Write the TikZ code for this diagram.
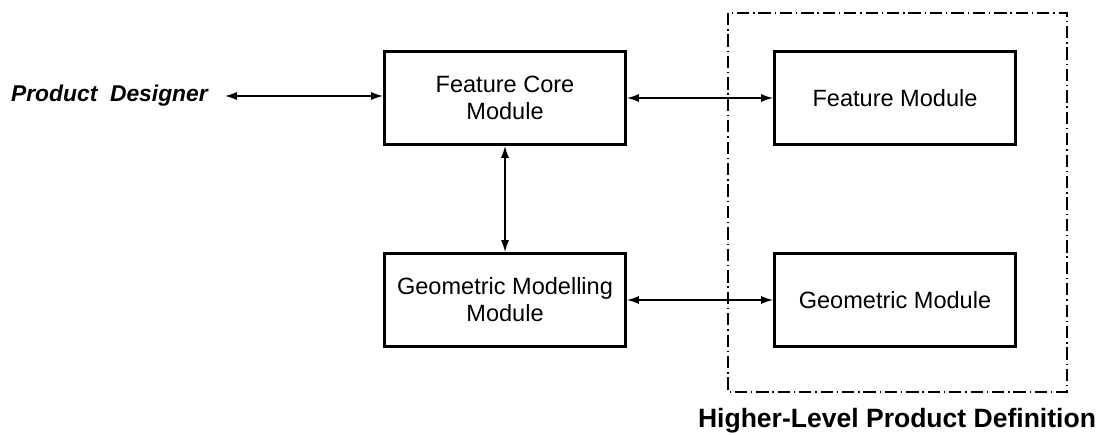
\documentclass[tikz,border=0pt]{standalone}
\usepackage{fontspec}
\setmainfont{Liberation Sans}
\usetikzlibrary{arrows.meta}

\begin{document}
\begin{tikzpicture}[x=0.02cm, y=-0.02cm,
	module/.style={draw, line width=1.7pt, minimum width=244*0.02cm-1.7pt, minimum height=96*0.02cm-1.7pt, align=center, inner sep=0pt, font=\fontsize{13.4}{15.3}\selectfont},
	link/.style={line width=0.75pt, {Latex[length=6.8pt,width=4.6pt]}-{Latex[length=6.8pt,width=4.6pt]}},
	frame/.style={line width=0.6pt, dash pattern=on 7pt off 2.2pt on 0.8pt off 2.2pt}]
	\useasboundingbox (0,0) rectangle (1103,435);
	% boxes
	\node[module] (core) at (505,98) {Feature Core\\Module};
	\node[module] (feat) at (895,98) {Feature Module};
	\node[module] (geomod) at (505,300) {Geometric Modelling\\Module};
	\node[module] (geo) at (895,300) {Geometric Module};
	
	% dash-dot frame
	\draw[frame] (728,13) rectangle (1067,392);
	\node[font=\fontsize{15.1}{17}\selectfont\bfseries] (hlpd) at (897,421) {Higher-Level Product Definition};
	
	\node[font=\fontsize{13}{15}\selectfont\bfseries\itshape, anchor=east] (designer) at (214,96) {Product\ \ Designer};
	\coordinate (dend) at (225,96);
	
	% connectors
	\draw[link] (dend) -- (core.west |- dend);
	\draw[link] (core.east) -- (feat.west);
	\draw[link] (core.south) -- (geomod.north);
	\draw[link] (geomod.east) -- (geo.west);
	
\end{tikzpicture}
\end{document}
